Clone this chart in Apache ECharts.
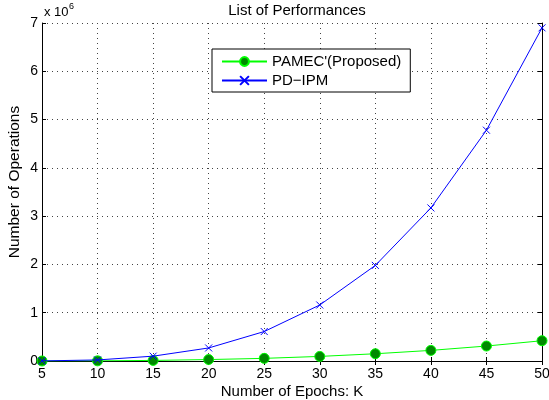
<!DOCTYPE html>
<html>
<head>
<meta charset="utf-8">
<script src="https://cdn.jsdelivr.net/npm/echarts@6/dist/echarts.min.js"></script>
<style>
  html, body { margin: 0; padding: 0; background: #fff; }
  #chart { width: 549px; height: 400px; }
</style>
</head>
<body>
<div id="chart"></div>
<script>
  // 数据
  const epochs = [5, 10, 15, 20, 25, 30, 35, 40, 45, 50];
  const pamec = [0.0003e6, 0.003e6, 0.012e6, 0.03e6, 0.055e6, 0.095e6, 0.15e6, 0.22e6, 0.31e6, 0.42e6];
  const pdipm = [0.002e6, 0.022e6, 0.1e6, 0.27e6, 0.61e6, 1.16e6, 1.98e6, 3.17e6, 4.78e6, 6.9e6];
  const seriesNames = ["PAMEC'(Proposed)", 'PD\u2212IPM'];

  const font = 'Liberation Sans, Arial, sans-serif';
  const pairs = (ys) => epochs.map((x, i) => [x, ys[i]]);

  let chart = echarts.init(document.getElementById('chart'));
  const gridLine = { show: true, lineStyle: { color: '#444', type: [1, 4], width: 1 } };
  const option = {
    animation: false,
    backgroundColor: '#fff',
    title: {
      text: 'List of Performances',
      left: 292,
      top: -2,
      textAlign: 'center',
      textStyle: { fontFamily: font, fontSize: 15, fontWeight: 'normal', color: '#000' }
    },
    graphic: [
      { type: 'text', left: 44, top: 6, style: { text: 'x 10', font: '13px ' + font, fill: '#000' } },
      { type: 'text', left: 69, top: 2, style: { text: '6', font: '9px ' + font, fill: '#000' } }
    ],
    grid: { left: 42, right: 7, top: 23, bottom: 39, outerBoundsMode: 'none' },
    legend: {
      orient: 'vertical',
      left: 212,
      top: 49,
      padding: [5, 9, 4, 9],
      itemGap: 4,
      itemWidth: 45,
      itemHeight: 11,
      borderColor: '#000',
      borderWidth: 1,
      backgroundColor: '#fff',
      textStyle: { fontFamily: font, fontSize: 15, color: '#000' },
      data: seriesNames
    },
    xAxis: [
      {
        type: 'value', min: 5, max: 50, interval: 5,
        name: 'Number of Epochs: K', nameLocation: 'middle', nameGap: 23,
        nameMoveOverlap: false,
        nameTextStyle: { fontFamily: font, fontSize: 15, color: '#000' },
        axisLine: { lineStyle: { color: '#000' } },
        axisTick: { inside: true, length: 4, lineStyle: { color: '#000' } },
        axisLabel: { fontFamily: font, fontSize: 14, color: '#000', margin: 6 },
        splitLine: gridLine
      },
      {
        type: 'value', min: 5, max: 50, interval: 5, position: 'top',
        axisLine: { show: true, lineStyle: { color: '#000' } },
        axisTick: { inside: true, length: 4, lineStyle: { color: '#000' } },
        axisLabel: { show: false }, splitLine: { show: false }
      }
    ],
    yAxis: [
      {
        type: 'value', min: 0, max: 7e6, interval: 1e6,
        name: 'Number of Operations', nameLocation: 'middle', nameGap: 19,
        nameMoveOverlap: false,
        nameTextStyle: { fontFamily: font, fontSize: 15.5, color: '#000', padding: [0, 0, 0, 20] },
        axisLine: { show: true, lineStyle: { color: '#000' } },
        axisTick: { show: true, inside: true, length: 4, lineStyle: { color: '#000' } },
        axisLabel: { fontFamily: font, fontSize: 14, color: '#000', margin: 4, formatter: (v) => v / 1e6 },
        splitLine: gridLine
      },
      {
        type: 'value', min: 0, max: 7e6, interval: 1e6, position: 'right',
        axisLine: { show: true, lineStyle: { color: '#000' } },
        axisTick: { show: true, inside: true, length: 4, lineStyle: { color: '#000' } },
        axisLabel: { show: false }, splitLine: { show: false }
      }
    ],
    series: [
      {
        name: seriesNames[0],
        type: 'line',
        data: pairs(pamec),
        symbol: 'circle',
        symbolSize: 10,
        lineStyle: { color: '#00ff00', width: 1 },
        itemStyle: { color: '#008a00', borderColor: '#00ff00', borderWidth: 1 },
        z: 2
      },
      {
        name: seriesNames[1],
        type: 'line',
        data: pairs(pdipm),
        symbol: 'path://M0,0L10,10M10,0L0,10',
        symbolSize: 7,
        lineStyle: { color: '#0000ff', width: 1 },
        itemStyle: { color: '#0000ff', borderColor: '#0000ff', borderWidth: 1 },
        z: 3
      }
    ]
  };
  chart.setOption(option);
</script>
</body>
</html>
